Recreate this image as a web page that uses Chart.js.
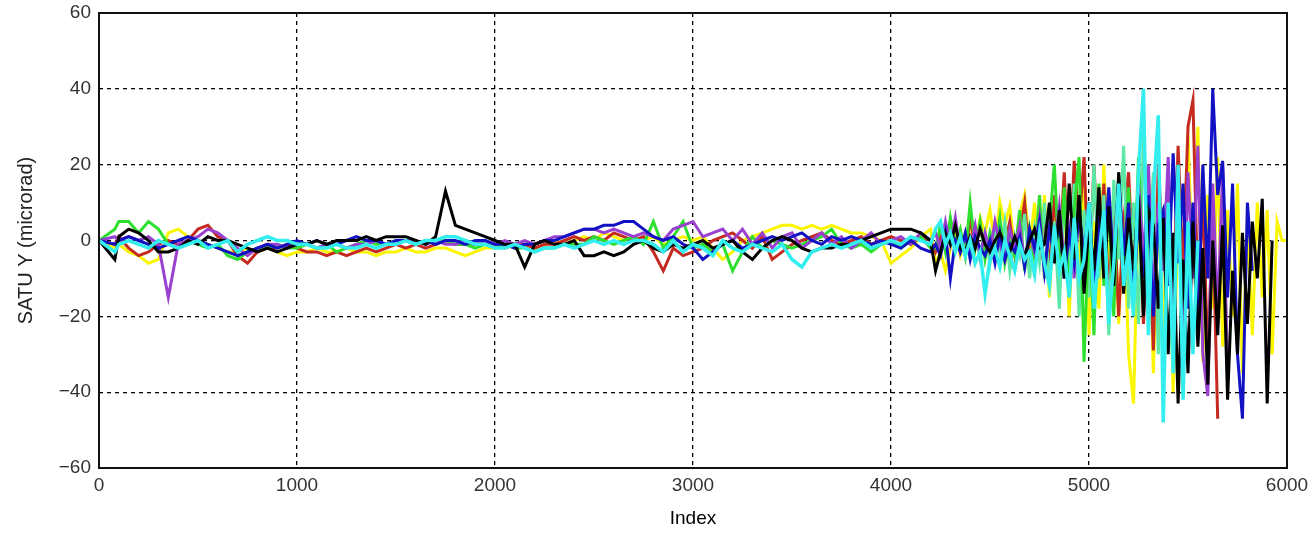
<!DOCTYPE html>
<html lang="en">
<head>
    <meta charset="UTF-8">
    <title>SATU Y</title>
    <script src="https://cdn.jsdelivr.net/npm/chart.js"></script>
    <style>
        body {
            margin: 0;
            background-color: white;
        }
        #wrap {
            width: 1315px;
            height: 534px;
        }
    </style>
</head>
<body>
    <div id="wrap">
        <canvas id="satuChart"></canvas>
    </div>
    <script>
        // sample positions (Index)
        const indexQuiet = [0, 80, 100, 150, 200, 250, 300, 350, 400, 450,
            500, 550, 600, 650, 700, 750, 800, 850, 900, 950,
            1000, 1050, 1100, 1150, 1200, 1250, 1300, 1350, 1400, 1450,
            1500, 1550, 1600, 1650, 1700, 1750, 1800, 1850, 1900, 1950,
            2000, 2050, 2100, 2150, 2200, 2250, 2300, 2350, 2400, 2450,
            2500, 2550, 2600, 2650, 2700, 2750, 2800, 2850, 2900, 2950,
            3000, 3050, 3100, 3150, 3200, 3250, 3300, 3350, 3400, 3450,
            3500, 3550, 3600, 3650, 3700, 3750, 3800, 3850, 3900, 3950,
            4000, 4050, 4100, 4150, 4200];
        const indexNoisy = [4225, 4250, 4275, 4300, 4325, 4350, 4375, 4400, 4425, 4450,
            4475, 4500, 4525, 4550, 4575, 4600, 4625, 4650, 4675, 4700,
            4725, 4750, 4775, 4800, 4825, 4850, 4875, 4900, 4925, 4950,
            4975, 5000, 5025, 5050, 5075, 5100, 5125, 5150, 5175, 5200,
            5225, 5250, 5275, 5300, 5325, 5350, 5375, 5400, 5425, 5450,
            5475, 5500, 5525, 5550, 5575, 5600, 5625, 5650, 5675, 5700,
            5725, 5750, 5775, 5800, 5825, 5850, 5875, 5900, 5925, 5950,
            5975, 6000];

        // microrad values, quiet part (0..4200)
        const blackQuiet = [0, -5, 1, 3, 2, 0, -3, -3, -2, 0, -1, 1, 0, 0, -1, -2, -3, -2, -3, -2,
            -1, -1, 0, -1, 0, 0, 0, 1, 0, 1, 1, 1, 0, -1, 1, 13, 4, 3, 2, 1,
            0, -1, -1, -7, -1, 0, -1, -1, 0, -4, -4, -3, -4, -3, -1, 0, -2, -3, -1, -2,
            -1, 0, -2, -1, 0, -3, -5, -2, 0, 1, 0, -2, -3, -2, -2, -1, -1, 0, 1, 2,
            3, 3, 3, 2, 0];
        const cyanQuiet = [0, -3, -1, 0, -1, -2, 0, -1, -2, -1, 0, -2, -1, 0, -3, -1, 0, 1, 0, 0,
            -1, -1, -2, -2, -1, -2, -2, -1, -2, -1, -1, 0, -1, 0, 0, 1, 1, 0, -1, -1,
            -2, -2, -1, -2, -3, -2, -2, -1, -2, -1, 0, -1, 0, -1, 0, 0, -1, -3, 0, -3,
            -1, -2, -4, 0, -2, -3, -1, -2, -3, -1, -5, -7, -3, -2, -1, -2, -1, 0, -2, -1,
            0, -1, 1, 0, -1];
        const greenQuiet = [0, 3, 5, 5, 2, 5, 3, -1, -2, 0, -1, -2, -1, -4, -5, -3, -2, -2, -1, -2,
            -2, -1, -2, -1, -3, -2, -1, 0, -1, -1, 0, 0, -1, 0, 0, 0, -1, -1, -2, -1,
            -2, -1, -2, -2, -3, -2, -2, -1, -1, -1, 1, 0, -1, 0, 1, -1, 5, -2, 1, 5,
            -2, -1, -3, -1, -8, -3, 1, -2, 0, -1, -2, -1, 0, 1, 3, -1, -2, -1, -3, -1,
            0, -2, 0, 1, -2];
        const redQuiet = [0, -1, 1, -2, -4, -3, -1, 0, -1, 0, 3, 4, 1, 0, -4, -6, -3, -2, -2, -1,
            -2, -3, -3, -4, -3, -4, -3, -2, -3, -2, -1, -2, -1, -2, -1, 0, -1, -1, -1, -1,
            -1, -2, -1, -1, -2, -1, -1, 0, 1, 0, 1, 0, 2, 1, 0, 1, -3, -8, -2, -4,
            -3, -2, 0, 1, 2, 0, -2, 1, -5, -3, -1, 0, 1, 2, 0, -1, 0, 1, -1, 0,
            1, 0, -1, 1, 0];
        const blueQuiet = [0, -1, 0, 1, 0, -1, -2, -1, 0, 1, 0, -1, -2, -3, -4, -3, -2, -1, -2, -1,
            0, -1, 0, -1, -1, 0, 1, 0, 0, -1, 0, 0, -1, 0, -1, 0, 0, -1, 0, 0,
            -1, -1, -2, -1, -1, 0, 0, 1, 2, 3, 3, 4, 4, 5, 5, 3, 1, 0, 1, -1,
            -2, -5, -3, -1, 0, -2, -1, 0, 1, 0, 1, 2, 0, -1, 1, 0, 1, 0, -1, 0,
            -1, -2, 0, -2, -3];
        const purpleQuiet = [0, 1, 0, 1, 0, 1, -1, -15, -1, 0, 1, 3, 2, 0, -2, -4, -2, -1, -1, -2,
            -1, -1, -2, -1, -1, -2, -1, -1, 0, -1, -1, 0, 0, -1, 0, -1, -1, 0, -1, 0,
            -1, 0, -1, 0, -1, 0, 1, 1, 2, 3, 3, 2, 3, 2, 1, 2, 1, 0, 3, 4,
            5, 1, 2, 3, 0, 3, -1, 2, -2, 1, 2, -2, 0, 2, -1, 1, -2, 0, 2, -1,
            0, 1, -1, 2, 0];
        const yellowQuiet = [0, -2, -1, -3, -4, -6, -5, 2, 3, 1, 0, -1, -2, -3, -3, -2, -3, -2, -3, -4,
            -3, -3, -2, -3, -3, -2, -3, -3, -4, -3, -3, -2, -3, -3, -2, -2, -3, -4, -3, -2,
            -2, -1, -2, -1, -2, -1, 0, -1, 0, 1, 0, 2, 1, 0, 1, 0, 1, -1, 0, 1,
            0, 1, -2, -5, -3, 0, 1, 2, 3, 4, 4, 3, 4, 3, 4, 3, 2, 2, 1, 0,
            -6, -4, -2, 1, 3];

        // noisy part (4225..6000)
        const blackNoisy = [-8, -3, 2, -1, 4, -2, -3, 1, -2, 3,
            -1, -3, 0, 2, -1, -3, 1, -2, -4, 0,
            3, -2, -1, 10, -6, 8, -10, 15, -5, 12,
            -14, 5, -8, 14, -10, 9, -12, 18, -14, 6,
            -8, 12, -20, 8, 4, -18, 6, -30, 2, -43,
            -5, -35, 5, -28, -2, -38, 0, -25, 4, -42,
            -8, -30, 2, -22, 5, -10, 11, -43, 0];
        const cyanNoisy = [3, 5, -1, 2, -3, 1, -4, 0, -6, -3,
            -14, -5, -2, -7, 0, -4, -8, -1, -5, -3,
            -9, 2, -6, -12, 4, -8, -3, -15, 6, -10,
            -5, 10, -18, -4, 8, -22, -6, 15, -12, -2,
            -20, 18, 40, -25, 12, 33, -48, 10, -35, 20,
            -42, 5, -30, 0];
        const greenNoisy = [-2, 4, -3, 6, -1, 3, -4, 10, -2, 5,
            -5, 2, -3, 6, -6, 1, -4, 8, -8, 3,
            -5, 12, -10, 4, 20, -6, 14, -15, 8, 22,
            -32, 6, -25, 15, -12, 10, -20, 18, -8, 14,
            -15, 22, -10, 0];
        const mintNoisy = [null, null, null, null, null, null, null, -2, 3, -5,
            2, -6, 4, -3, 5, -8, 1, -4, 7, -10,
            3, -6, 10, -12, 5, -18, 12, -8, 15, -20,
            8, -15, 20, -10, 12, -25, 16, -5, 25, -18,
            10, -22, 28, -8, 18, -30, 6, 0];
        const redNoisy = [-3, 1, -2, 3, -1, 2, -4, 6, -2, 4,
            -3, 1, -5, 3, -1, 5, -4, 2, 10, -6,
            3, -4, 8, -8, 12, -5, 18, -10, 21, 4,
            22, -12, 20, -6, 15, -15, 10, -20, 5, 18,
            -10, 14, -22, 8, -29, 20, -5, 12, -18, 25,
            -8, 30, 37, -15, 10, -30, 5, -47];
        const blueNoisy = [-1, -4, 2, -10, 0, -3, 2, -5, 1, -2,
            -4, 0, -6, 2, -5, -1, -3, 1, -7, 3,
            -2, 5, -8, 3, -4, 6, -10, 2, -6, 8,
            -5, 10, -12, 6, -3, 14, -8, 16, -4, 10,
            -15, 6, -10, 12, -20, 4, 8, -12, 23, -6,
            15, -18, 10, -25, 20, -10, 40, 12, 21, -15,
            15, -30, -47, 10, -8];
        const purpleNoisy = [2, -2, 5, -1, 6, -3, 1, -2, 4, -4,
            2, -3, 5, -1, -5, 3, -2, 4, -6, 2,
            -3, 6, -8, 4, -2, 9, -6, 3, -10, 7,
            -4, 10, -12, 5, -6, 12, -8, 17, -3, 8,
            -12, 15, -5, 20, -15, 10, -8, 22, -20, 12,
            -25, 18, -10, 25, -30, -41, 15, -20, 19, -35];
        const yellowNoisy = [-6, -3, -8, -2, 2, -4, 0, 4, -2, 6,
            2, 8, -1, 10, 4, 9, -3, 7, 12, -2,
            10, -5, 12, -15, 8, -10, 14, -20, 10, -8,
            16, -25, 5, -18, 20, -10, 12, -22, 8, -30,
            -43, 10, -15, 20, -35, 8, -25, 15, -40, 5,
            -20, 28, -10, 30, -32, 12, -18, 22, -28, 8,
            -20, 15, -35, 5, -25, 10, -15, 8, -30, 5,
            0, 0];

        const xTicks = [0, 1000, 2000, 3000, 4000, 5000, 6000];
        const yTicks = [-60, -40, -20, 0, 20, 40, 60];

        function pts(xs, ys) {
            return ys.map((y, i) => ({ x: xs[i], y: y }));
        }

        function series(quiet, noisy) {
            return pts(indexQuiet, quiet).concat(pts(indexNoisy, noisy));
        }

        // first dataset ends up on top
        const lines = [
            { color: '#33eeee', width: 3.5, data: series(cyanQuiet, cyanNoisy) },
            { color: '#000000', width: 3, data: series(blackQuiet, blackNoisy) },
            { color: '#1212c4', width: 3, data: series(blueQuiet, blueNoisy) },
            { color: '#9a40d0', width: 3, data: series(purpleQuiet, purpleNoisy) },
            { color: '#2ee02e', width: 3, data: series(greenQuiet, greenNoisy) },
            { color: '#5ee8a6', width: 3, data: pts(indexNoisy, mintNoisy) },
            { color: '#c42a20', width: 3, data: series(redQuiet, redNoisy) },
            { color: '#fbf600', width: 3, data: series(yellowQuiet, yellowNoisy) }
        ];

        const frame = {
            id: 'frame',
            afterDatasetsDraw(chart) {
                const a = chart.chartArea;
                const c = chart.ctx;
                c.save();
                c.strokeStyle = '#111';
                c.lineWidth = 2;
                c.strokeRect(a.left, a.top, a.right - a.left, a.bottom - a.top);
                c.restore();
            }
        };

        const tickFont = { family: "'Liberation Sans', Arial, sans-serif", size: 19 };
        const plain = v => String(v).replace('-', '\u2212');

        new Chart(document.getElementById('satuChart'), {
            type: 'line',
            data: {
                datasets: lines.map(l => ({
                    data: l.data,
                    borderColor: l.color,
                    borderWidth: l.width,
                    pointRadius: 0,
                    tension: 0,
                    spanGaps: false
                }))
            },
            options: {
                responsive: true,
                maintainAspectRatio: false,
                animation: false,
                layout: { padding: { top: 13, right: 28, left: 0, bottom: 0 } },
                plugins: {
                    legend: { display: false },
                    tooltip: { enabled: false }
                },
                scales: {
                    x: {
                        type: 'linear',
                        min: 0,
                        max: 6000,
                        afterBuildTicks: s => { s.ticks = xTicks.map(v => ({ value: v })); },
                        afterFit: s => { s.height = 66; s.paddingLeft = 0; s.paddingRight = 0; },
                        grid: { color: '#000', lineWidth: 1.3, drawTicks: false },
                        border: { display: false, dash: [4, 4] },
                        ticks: { font: tickFont, color: '#333', padding: 6, maxRotation: 0, callback: plain },
                        title: {
                            display: true,
                            text: 'Index',
                            font: { family: "'Liberation Sans Narrow', 'Liberation Sans', sans-serif", size: 19 },
                            color: '#000',
                            padding: { top: 0, bottom: 4 }
                        }
                    },
                    y: {
                        min: -60,
                        max: 60,
                        afterBuildTicks: s => { s.ticks = yTicks.map(v => ({ value: v })); },
                        afterFit: s => { s.width = 99; s.paddingTop = 0; s.paddingBottom = 0; },
                        grid: { color: '#000', lineWidth: 1.3, drawTicks: false },
                        border: { display: false, dash: [4, 4] },
                        ticks: { font: tickFont, color: '#333', padding: 8, callback: plain },
                        title: {
                            display: true,
                            text: 'SATU Y (microrad)',
                            font: { family: "'Liberation Sans', Arial, sans-serif", size: 20 },
                            color: '#222',
                            padding: { top: 14, bottom: 0 }
                        }
                    }
                }
            },
            plugins: [frame]
        });
    </script>
</body>
</html>
